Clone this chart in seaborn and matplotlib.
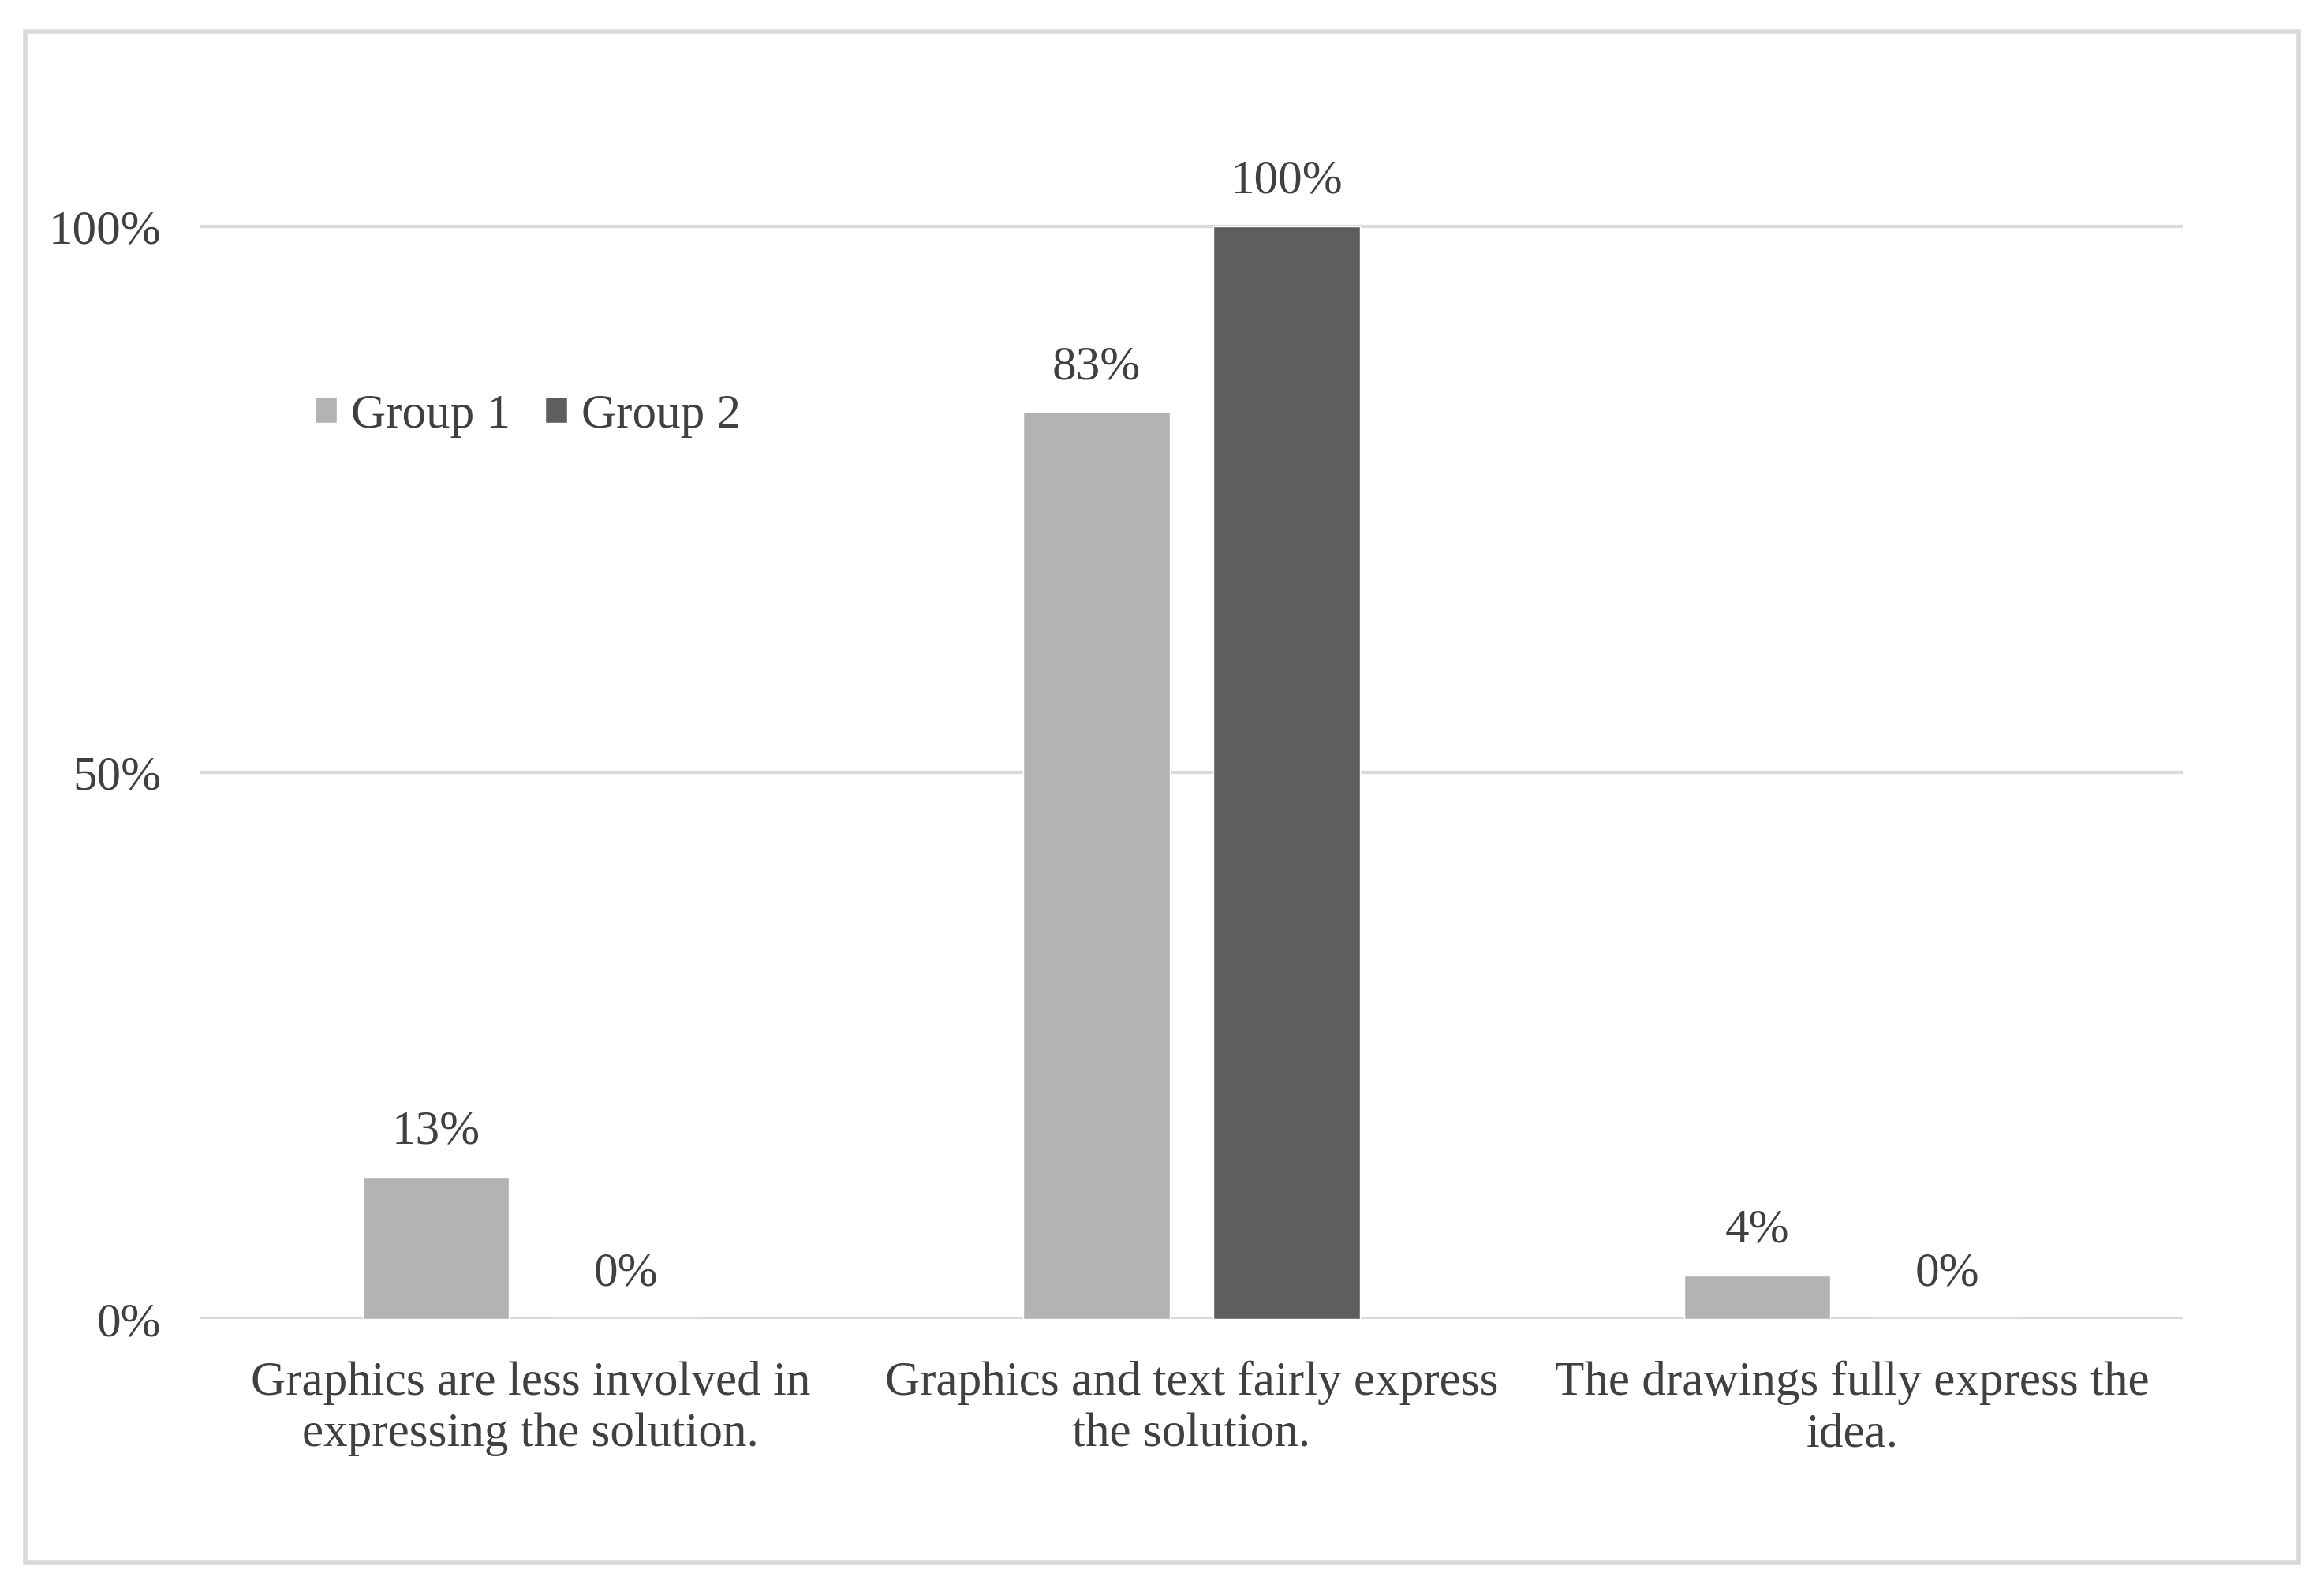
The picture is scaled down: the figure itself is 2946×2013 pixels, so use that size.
import matplotlib
matplotlib.use("Agg")
import matplotlib.pyplot as plt
import seaborn as sns
import pandas as pd
from matplotlib.patches import Rectangle

# Data
categories = [
    "Graphics are less involved in\nexpressing the solution.",
    "Graphics and text fairly express\nthe solution.",
    "The drawings fully express the\nidea.",
]
groups = ["Group 1", "Group 2"]
group1 = [0.13, 0.83, 0.04]
group2 = [0.00, 1.00, 0.00]
y_ticks = [0.0, 0.5, 1.0]
y_tick_labels = ["0%", "50%", "100%"]

df = pd.DataFrame({
    "category": categories * 2,
    "group": [groups[0]] * 3 + [groups[1]] * 3,
    "value": group1 + group2,
})

sns.set_theme(style="white")
plt.rcParams["font.family"] = ["Liberation Serif", "DejaVu Serif"]
text_color = "#404040"
grid_color = "#D9D9D9"
fs = 44

fig = plt.figure(figsize=(29.46, 20.13), dpi=100)
ax = fig.add_axes([0.0862, 0.1694, 0.853, 0.7466])

sns.barplot(data=df, x="category", y="value", hue="group",
            palette=["#B3B3B3", "#5E5E5E"], width=0.575, gap=0.23,
            order=categories, hue_order=groups, ax=ax, saturation=1,
            errorbar=None)

ax.set_xlim(-0.5, 2.5)
ax.set_ylim(0, 1.085)
ax.set_yticks(y_ticks)
ax.set_yticklabels(y_tick_labels)
ax.set_xlabel("")
ax.set_ylabel("")
for y in y_ticks:
    ax.axhline(y, color=grid_color, lw=3, zorder=0)
for s in ax.spines.values():
    s.set_visible(False)
ax.tick_params(axis="y", length=0, pad=36, labelsize=fs, labelcolor=text_color)
ax.tick_params(axis="x", length=0, pad=38, labelsize=fs, labelcolor=text_color)
for lab in ax.get_xticklabels():
    lab.set_linespacing(1.24)

for cont in ax.containers:
    ax.bar_label(cont, labels=[f"{v * 100:.0f}%" for v in cont.datavalues],
                 padding=21, fontsize=fs, color=text_color)

leg = ax.legend(loc="center left", bbox_to_anchor=(0.036, 0.762), ncol=2,
                frameon=False, fontsize=fs, handlelength=0.45, handleheight=0.45,
                handletextpad=0.3, columnspacing=0.72, labelcolor=text_color)

# outer frame
fig.patches.append(Rectangle((0.011, 0.016), 0.978, 0.964, transform=fig.transFigure,
                             fill=False, edgecolor=grid_color, lw=4))

fig.savefig("out.png", dpi=100)
